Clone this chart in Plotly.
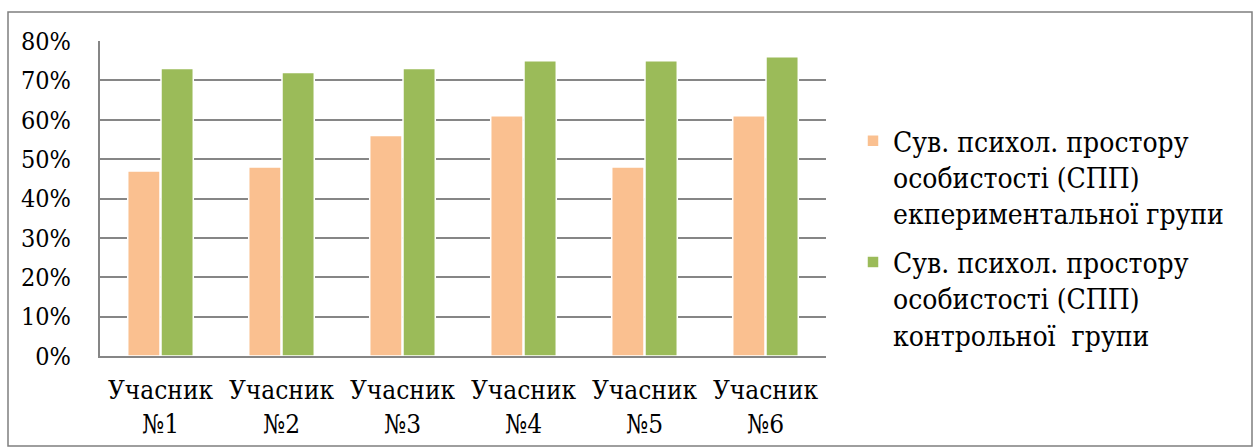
import plotly.graph_objects as go

# Data
participants = ["Учасник<br>№1", "Учасник<br>№2", "Учасник<br>№3",
                "Учасник<br>№4", "Учасник<br>№5", "Учасник<br>№6"]
experimental = [47, 48, 56, 61, 48, 61]
control = [73, 72, 73, 75, 75, 76]
name_exp = "Сув. психол. простору<br>особистості (СПП)<br>екпериментальної групи"
name_ctl = "Сув. психол. простору<br>особистості (СПП)<br>контрольної  групи"
y_ticks = [0, 10, 20, 30, 40, 50, 60, 70, 80]

W, H = 1258, 447
L, R, T, B = 100, 826, 41, 356  # plot area in pixels
FONT = "DejaVu Serif Condensed, DejaVu Serif"

fig = go.Figure()
fig.add_trace(go.Bar(x=participants, y=experimental, name=name_exp, legendgroup="exp",
                     marker=dict(color="#FAC090", line=dict(color="white", width=1.5))))
fig.add_trace(go.Bar(x=participants, y=control, name=name_ctl, legendgroup="ctl",
                     marker=dict(color="#9BBB59", line=dict(color="white", width=1.5))))

pw, ph = R - L, B - T
# outer chart border
fig.add_shape(type="rect", xref="paper", yref="paper", layer="below",
              x0=(8 - L) / pw, x1=(1252 - L) / pw,
              y0=(B - 446) / ph, y1=(B - 12) / ph,
              line=dict(color="#7f7f7f", width=1.5))

fig.update_layout(
    width=W, height=H,
    margin=dict(l=L, r=W - R, t=T, b=H - B),
    paper_bgcolor="white", plot_bgcolor="white",
    barmode="group", bargap=0.45, bargroupgap=0.03,
    font=dict(family=FONT, color="black"),
    showlegend=True,
    legend=dict(x=(853 - L) / pw, xanchor="left", y=(B - 238) / ph, yanchor="middle",
                font=dict(size=28, family=FONT), valign="top",
                itemwidth=30, tracegroupgap=9),
    xaxis=dict(showgrid=False, showline=True, linecolor="#868686", linewidth=2,
               automargin=False, ticks="", ticklabelstandoff=10,
               tickfont=dict(size=26, family=FONT)),
    yaxis=dict(range=[0, 80], tickvals=y_ticks, ticktext=[f"{v}%" for v in y_ticks],
               showgrid=True, gridcolor="#868686", gridwidth=2,
               showline=True, linecolor="#868686", linewidth=2,
               automargin=False, ticks="", ticklabelstandoff=22, zeroline=False,
               tickfont=dict(size=25, family=FONT)),
)

fig.write_html("out.html")
